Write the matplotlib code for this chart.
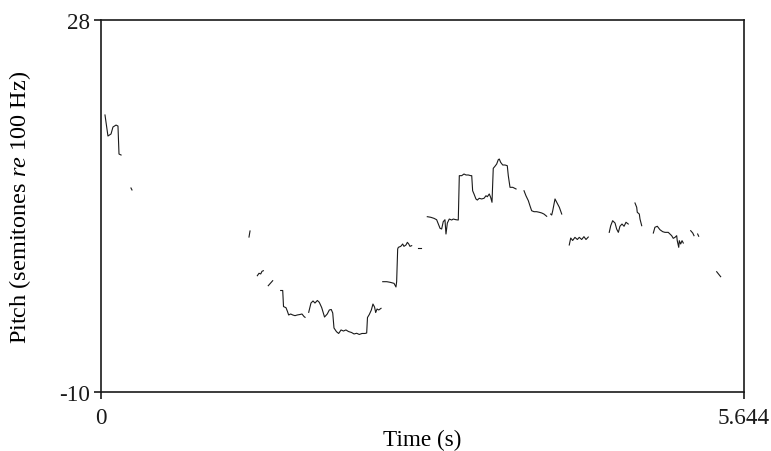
"""
Pitch contour (semitones re 100 Hz) over time, drawn as unvoiced-gapped segments.
"""

import numpy as np
import matplotlib
matplotlib.use("Agg")
import matplotlib.pyplot as plt

plt.rcParams["font.family"] = ["Liberation Serif", "DejaVu Serif"]
plt.rcParams["mathtext.fontset"] = "custom"
plt.rcParams["mathtext.rm"] = "Liberation Serif"
plt.rcParams["mathtext.it"] = "Liberation Serif:italic"
plt.rcParams["axes.unicode_minus"] = False

T_MAX = 5.644
Y_MIN, Y_MAX = -10, 28

# voiced stretches: time (s) and pitch (semitones re 100 Hz)
seg_times = [
    [0.035, 0.061, 0.088, 0.105, 0.132, 0.149, 0.158, 0.176],
    [0.263, 0.272],
    [1.308, 1.299],
    [1.372, 1.387, 1.402, 1.413, 1.425],
    [1.468, 1.507],
    [1.577, 1.595, 1.602, 1.624, 1.637, 1.647, 1.665, 1.683, 1.703, 1.723,
     1.747, 1.764, 1.782, 1.791],
    [1.823, 1.843, 1.861, 1.878, 1.899, 1.916, 1.937, 1.962, 1.986, 2.004,
     2.021, 2.034, 2.045, 2.067, 2.086, 2.107, 2.128, 2.150, 2.172, 2.199,
     2.221, 2.244, 2.267, 2.291, 2.317, 2.332, 2.339, 2.355, 2.373, 2.387,
     2.401, 2.411, 2.423, 2.438, 2.458],
    [2.473, 2.508, 2.537, 2.572, 2.589, 2.595, 2.604, 2.610, 2.631, 2.648,
     2.659, 2.677, 2.689, 2.701, 2.712, 2.727],
    [2.782, 2.809],
    [2.864, 2.894, 2.923, 2.946, 2.961, 2.976, 2.990, 3.004, 3.019, 3.028,
     3.040, 3.057, 3.078, 3.092, 3.116, 3.136, 3.145, 3.166, 3.186, 3.204,
     3.224, 3.245, 3.254, 3.262, 3.274, 3.291, 3.303, 3.320, 3.341, 3.362,
     3.379, 3.391, 3.408, 3.420, 3.432, 3.443, 3.458, 3.473, 3.487, 3.496,
     3.508, 3.526, 3.546, 3.566, 3.575, 3.590, 3.614, 3.643],
    [3.713, 3.730, 3.751, 3.765, 3.780, 3.801, 3.824, 3.847, 3.868, 3.888, 3.912],
    [3.947, 3.956, 3.965, 3.985, 4.000, 4.023, 4.044],
    [4.110, 4.123, 4.140, 4.160, 4.181, 4.198, 4.219, 4.239, 4.257, 4.277],
    [4.461, 4.474, 4.491, 4.512, 4.526, 4.541, 4.555, 4.573, 4.591, 4.608, 4.628],
    [4.687, 4.702, 4.707, 4.725, 4.731, 4.746],
    [4.848, 4.862, 4.883, 4.906, 4.930, 4.950, 4.979, 4.994, 5.009, 5.023,
     5.038, 5.053, 5.058, 5.071, 5.076, 5.088, 5.100, 5.111],
    [5.176, 5.194, 5.205],
    [5.237, 5.246],
    [5.404, 5.439],
]

seg_pitch = [
    [18.30, 16.15, 16.36, 17.07, 17.27, 17.17, 14.31, 14.21],
    [10.84, 10.64],
    [6.45, 5.83],
    [1.88, 2.13, 2.06, 2.33, 2.39],
    [0.86, 1.37],
    [0.37, 0.37, -1.27, -1.39, -1.78, -2.13, -2.03, -2.13, -2.20, -2.13,
     -2.08, -2.03, -2.29, -2.37],
    [-1.86, -0.91, -0.70, -0.91, -0.65, -0.84, -1.37, -2.34, -2.03, -1.62,
     -1.57, -1.93, -3.46, -3.84, -4.02, -3.66, -3.77, -3.66, -3.82, -3.92,
     -4.07, -4.00, -4.12, -4.02, -4.02, -3.97, -2.39, -2.08, -1.62, -1.01,
     -1.32, -1.88, -1.52, -1.62, -1.45],
    [1.27, 1.27, 1.21, 1.10, 0.73, 1.27, 4.61, 4.78, 4.88, 5.12,
     4.88, 5.02, 5.29, 5.12, 4.88, 4.95],
    [4.68, 4.68],
    [7.91, 7.85, 7.74, 7.60, 7.16, 6.72, 6.65, 7.40, 7.60, 6.14,
     7.26, 7.67, 7.57, 7.67, 7.60, 7.57, 12.10, 12.10, 12.27, 12.17,
     12.17, 12.10, 12.10, 10.56, 10.23, 9.72, 9.61, 9.79, 9.72, 9.79,
     10.05, 9.95, 10.23, 9.89, 9.38, 12.85, 13.06, 13.29, 13.73, 13.80,
     13.46, 13.19, 13.19, 13.12, 12.10, 10.91, 10.91, 10.74],
    [10.56, 10.05, 9.54, 9.03, 8.52, 8.42, 8.42, 8.36, 8.29, 8.18, 7.95],
    [8.18, 8.08, 8.52, 9.72, 9.38, 8.87, 8.18],
    [5.02, 5.73, 5.48, 5.80, 5.58, 5.80, 5.58, 5.87, 5.58, 5.83],
    [6.31, 6.99, 7.50, 7.26, 6.65, 6.31, 6.93, 7.16, 6.93, 7.34, 7.16],
    [9.31, 8.87, 8.36, 8.18, 7.67, 6.99],
    [6.24, 6.83, 6.93, 6.58, 6.38, 6.31, 6.31, 6.14, 5.97, 5.70,
     5.80, 5.97, 5.46, 4.78, 5.46, 5.12, 5.46, 5.22],
    [6.48, 6.24, 5.97],
    [6.14, 5.91],
    [2.29, 1.78],
]


def main():
    fig = plt.figure(figsize=(7.71, 4.52), dpi=100)
    ax = fig.add_axes([0.131, 0.1305, 0.834, 0.823])

    for t, p in zip(seg_times, seg_pitch):
        ax.plot(np.array(t), np.array(p), color="#1a1a1a", lw=0.8,
                solid_joinstyle="round")

    ax.set_xlim(0, T_MAX)
    ax.set_ylim(Y_MIN, Y_MAX)
    ax.set_xticks([0, T_MAX])
    ax.set_xticklabels(["0", "5.644"])
    ax.set_yticks([Y_MIN, Y_MAX])
    ax.set_yticklabels(["-10", "28"])
    ax.tick_params(direction="out", length=5, width=1.2, labelsize=16.7,
                   colors="#1a1a1a")
    ax.tick_params(axis="x", pad=6)
    ax.tick_params(axis="y", pad=3)
    for s in ax.spines.values():
        s.set_linewidth(1.2)
        s.set_color("#1a1a1a")

    ax.set_xlabel("Time (s)", fontsize=16.7, labelpad=0.5)
    ax.set_ylabel(r"Pitch (semitones $\mathit{re}$ 100 Hz)", fontsize=17.5,
                  labelpad=19)

    fig.savefig("out.png", dpi=100)
    plt.close(fig)


if __name__ == "__main__":
    main()
